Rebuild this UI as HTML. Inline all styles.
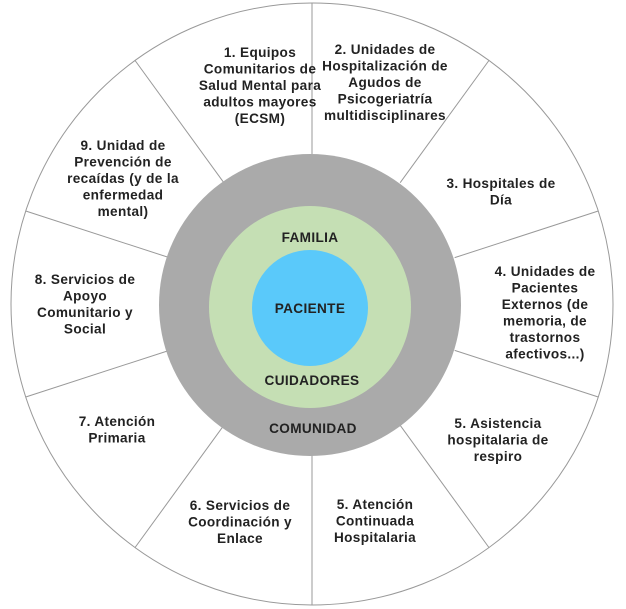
<!DOCTYPE html>
<html><head><meta charset="utf-8"><style>
html,body{margin:0;padding:0;background:#fff;}
svg{display:block;}
text{font-family:"Liberation Sans",sans-serif;font-weight:bold;font-size:13.6px;letter-spacing:0.35px;fill:#222;text-anchor:middle;}
</style></head><body>
<svg width="626" height="609" viewBox="0 0 626 609">
<circle cx="312" cy="304" r="301" fill="#fff" stroke="#999" stroke-width="1"/>
<g stroke="#999" stroke-width="1">
<line x1="312" y1="154" x2="312" y2="3" transform="rotate(0 312 304)"/>
<line x1="312" y1="154" x2="312" y2="3" transform="rotate(36 312 304)"/>
<line x1="312" y1="154" x2="312" y2="3" transform="rotate(72 312 304)"/>
<line x1="312" y1="154" x2="312" y2="3" transform="rotate(108 312 304)"/>
<line x1="312" y1="154" x2="312" y2="3" transform="rotate(144 312 304)"/>
<line x1="312" y1="154" x2="312" y2="3" transform="rotate(180 312 304)"/>
<line x1="312" y1="154" x2="312" y2="3" transform="rotate(216 312 304)"/>
<line x1="312" y1="154" x2="312" y2="3" transform="rotate(252 312 304)"/>
<line x1="312" y1="154" x2="312" y2="3" transform="rotate(288 312 304)"/>
<line x1="312" y1="154" x2="312" y2="3" transform="rotate(324 312 304)"/>
</g>
<circle cx="310" cy="305" r="151" fill="#aaaaaa"/>
<circle cx="310" cy="307" r="101" fill="#c5dfb4"/>
<circle cx="310" cy="308" r="58" fill="#5ac9fa"/>
<text x="310" y="242">FAMILIA</text>
<text x="310" y="313">PACIENTE</text>
<text x="312" y="385">CUIDADORES</text>
<text x="313" y="433">COMUNIDAD</text>

<text x="260" y="57">1. Equipos</text>
<text x="260" y="73.5">Comunitarios de</text>
<text x="260" y="90">Salud Mental para</text>
<text x="260" y="106.5">adultos mayores</text>
<text x="260" y="123">(ECSM)</text>

<text x="385" y="54">2. Unidades de</text>
<text x="385" y="70.5">Hospitalización de</text>
<text x="385" y="87">Agudos de</text>
<text x="385" y="103.5">Psicogeriatría</text>
<text x="385" y="120">multidisciplinares</text>

<text x="501" y="188">3. Hospitales de</text>
<text x="501" y="204.5">Día</text>

<text x="545" y="276">4. Unidades de</text>
<text x="545" y="292.5">Pacientes</text>
<text x="545" y="309">Externos (de</text>
<text x="545" y="325.5">memoria, de</text>
<text x="545" y="342">trastornos</text>
<text x="545" y="358.5">afectivos...)</text>

<text x="498" y="428">5. Asistencia</text>
<text x="498" y="444.5">hospitalaria de</text>
<text x="498" y="461">respiro</text>

<text x="375" y="509">5. Atención</text>
<text x="375" y="525.5">Continuada</text>
<text x="375" y="542">Hospitalaria</text>

<text x="240" y="510">6. Servicios de</text>
<text x="240" y="526.5">Coordinación y</text>
<text x="240" y="543">Enlace</text>

<text x="117" y="426">7. Atención</text>
<text x="117" y="442.5">Primaria</text>

<text x="85" y="284">8. Servicios de</text>
<text x="85" y="300.5">Apoyo</text>
<text x="85" y="317">Comunitario y</text>
<text x="85" y="333.5">Social</text>

<text x="123" y="150">9. Unidad de</text>
<text x="123" y="166.5">Prevención de</text>
<text x="123" y="183">recaídas (y de la</text>
<text x="123" y="199.5">enfermedad</text>
<text x="123" y="216">mental)</text>
</svg>
</body></html>
